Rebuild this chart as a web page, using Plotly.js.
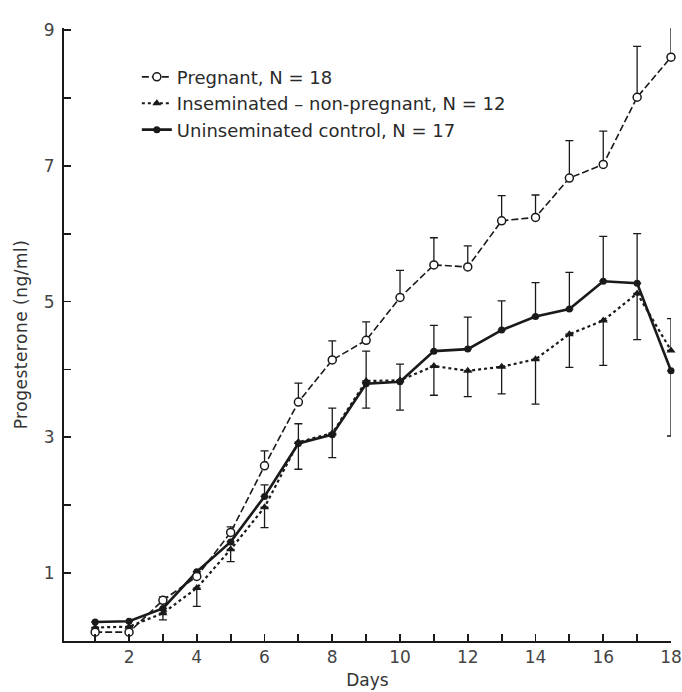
<!DOCTYPE html>
<html>
<head>
<meta charset="utf-8">
<script src="https://cdn.plot.ly/plotly-3.0.1.min.js"></script>
<style>
html,body{margin:0;padding:0;background:#fff;}
#chart{width:682px;height:692px;}
#chart .ytitle{letter-spacing:0.5px;}
</style>
</head>
<body>
<div id="chart"></div>
<script>
// Days
const days = [1,2,3,4,5,6,7,8,9,10,11,12,13,14,15,16,17,18];

// Pregnant, N = 18 (mean, upper SE)
const pregnant      = [0.13,0.13,0.60,0.95,1.60,2.58,3.52,4.14,4.43,5.06,5.54,5.51,6.19,6.24,6.82,7.02,8.01,8.60];
const pregnantErrUp = [0,0,0.05,0.04,0.08,0.22,0.28,0.28,0.27,0.40,0.40,0.31,0.37,0.33,0.55,0.49,0.75,0.68];

// Inseminated – non-pregnant, N = 12 (mean, SE below; above on day 18)
const insem         = [0.20,0.21,0.41,0.78,1.35,1.97,2.93,3.06,3.83,3.84,4.05,3.98,4.04,4.15,4.52,4.72,5.12,4.28];
const insemErrDown  = [0,0,0.10,0.27,0.18,0.30,0.40,0.36,0.40,0.44,0.43,0.38,0.40,0.66,0.49,0.66,0.68,0];
const insemErrUp    = [0,0,0,0,0,0,0,0,0,0,0,0,0,0,0,0,0,0.47];

// Uninseminated control, N = 17 (mean, SE above; below on day 18)
const control        = [0.28,0.29,0.48,1.02,1.46,2.13,2.91,3.04,3.79,3.82,4.27,4.30,4.58,4.78,4.89,5.30,5.27,3.98];
const controlErrUp   = [0,0,0,0,0,0.17,0.29,0.39,0.48,0.26,0.38,0.47,0.43,0.50,0.54,0.66,0.73,0];
const controlErrDown = [0,0,0,0,0,0,0,0,0,0,0,0,0,0,0,0,0,0.96];

// Tick labels
const xTickVals = days;
const xTickText = days.map(d => d % 2 === 0 ? String(d) : '');
const yTickVals = [1,2,3,4,5,6,7,8,9];
const yTickText = yTickVals.map(v => v % 2 === 1 ? String(v) : '');

const ink = '#1a1a1a';
const errStyle = {color: ink, thickness: 1.3, width: 4};

const traces = [
  {
    x: days, y: control, name: 'Uninseminated control, N = 17',
    mode: 'lines+markers', cliponaxis: false,
    line: {color: ink, width: 2.6},
    marker: {symbol: 'circle', size: 7, color: ink},
    error_y: Object.assign({type: 'data', symmetric: false, array: controlErrUp, arrayminus: controlErrDown}, errStyle)
  },
  {
    x: days, y: insem, name: 'Inseminated \u2013 non-pregnant, N = 12',
    mode: 'lines+markers', cliponaxis: false,
    line: {color: ink, width: 2.2, dash: 'dot'},
    marker: {symbol: 'triangle-up', size: 8, color: ink},
    error_y: Object.assign({type: 'data', symmetric: false, array: insemErrUp, arrayminus: insemErrDown}, errStyle)
  },
  {
    x: days, y: pregnant, name: 'Pregnant, N = 18',
    mode: 'lines+markers', cliponaxis: false,
    line: {color: ink, width: 1.6, dash: '7px,3px'},
    marker: {symbol: 'circle', size: 8, color: '#ffffff', line: {color: ink, width: 1.5}},
    error_y: Object.assign({type: 'data', symmetric: false, array: pregnantErrUp, arrayminus: days.map(() => 0)}, errStyle)
  }
];

const layout = {
  width: 682, height: 692,
  margin: {l: 64, r: 11, t: 28, b: 51},
  paper_bgcolor: '#ffffff', plot_bgcolor: '#ffffff',
  font: {family: 'DejaVu Sans, Verdana, sans-serif', size: 17, color: '#333'},
  showlegend: true,
  legend: {
    x: 0.12, y: 0.95, xanchor: 'left', yanchor: 'top',
    traceorder: 'reversed', bgcolor: 'rgba(0,0,0,0)',
    font: {size: 18, color: '#2a2a2a'}, itemwidth: 30, tracegroupgap: 0
  },
  xaxis: {
    range: [0.08, 18], showgrid: false, zeroline: false,
    showline: true, linecolor: ink, linewidth: 2,
    ticks: 'inside', ticklen: 7, tickwidth: 1.8, tickcolor: ink,
    tickmode: 'array', tickvals: xTickVals, ticktext: xTickText,
    tickfont: {size: 17, color: '#444'},
    title: {text: 'Days', font: {size: 17, color: '#333'}, standoff: 8}
  },
  yaxis: {
    range: [0, 9.03], showgrid: false, zeroline: false,
    showline: true, linecolor: ink, linewidth: 2,
    ticks: 'inside', ticklen: 7, tickwidth: 1.8, tickcolor: ink,
    tickmode: 'array', tickvals: yTickVals, ticktext: yTickText,
    tickfont: {size: 17, color: '#444'}, ticklabelstandoff: 4,
    title: {text: 'Progesterone (ng/ml)', font: {size: 17, color: '#333'}, standoff: 12}
  }
};

Plotly.newPlot('chart', traces, layout, {displayModeBar: false, staticPlot: true});
</script>
</body>
</html>
